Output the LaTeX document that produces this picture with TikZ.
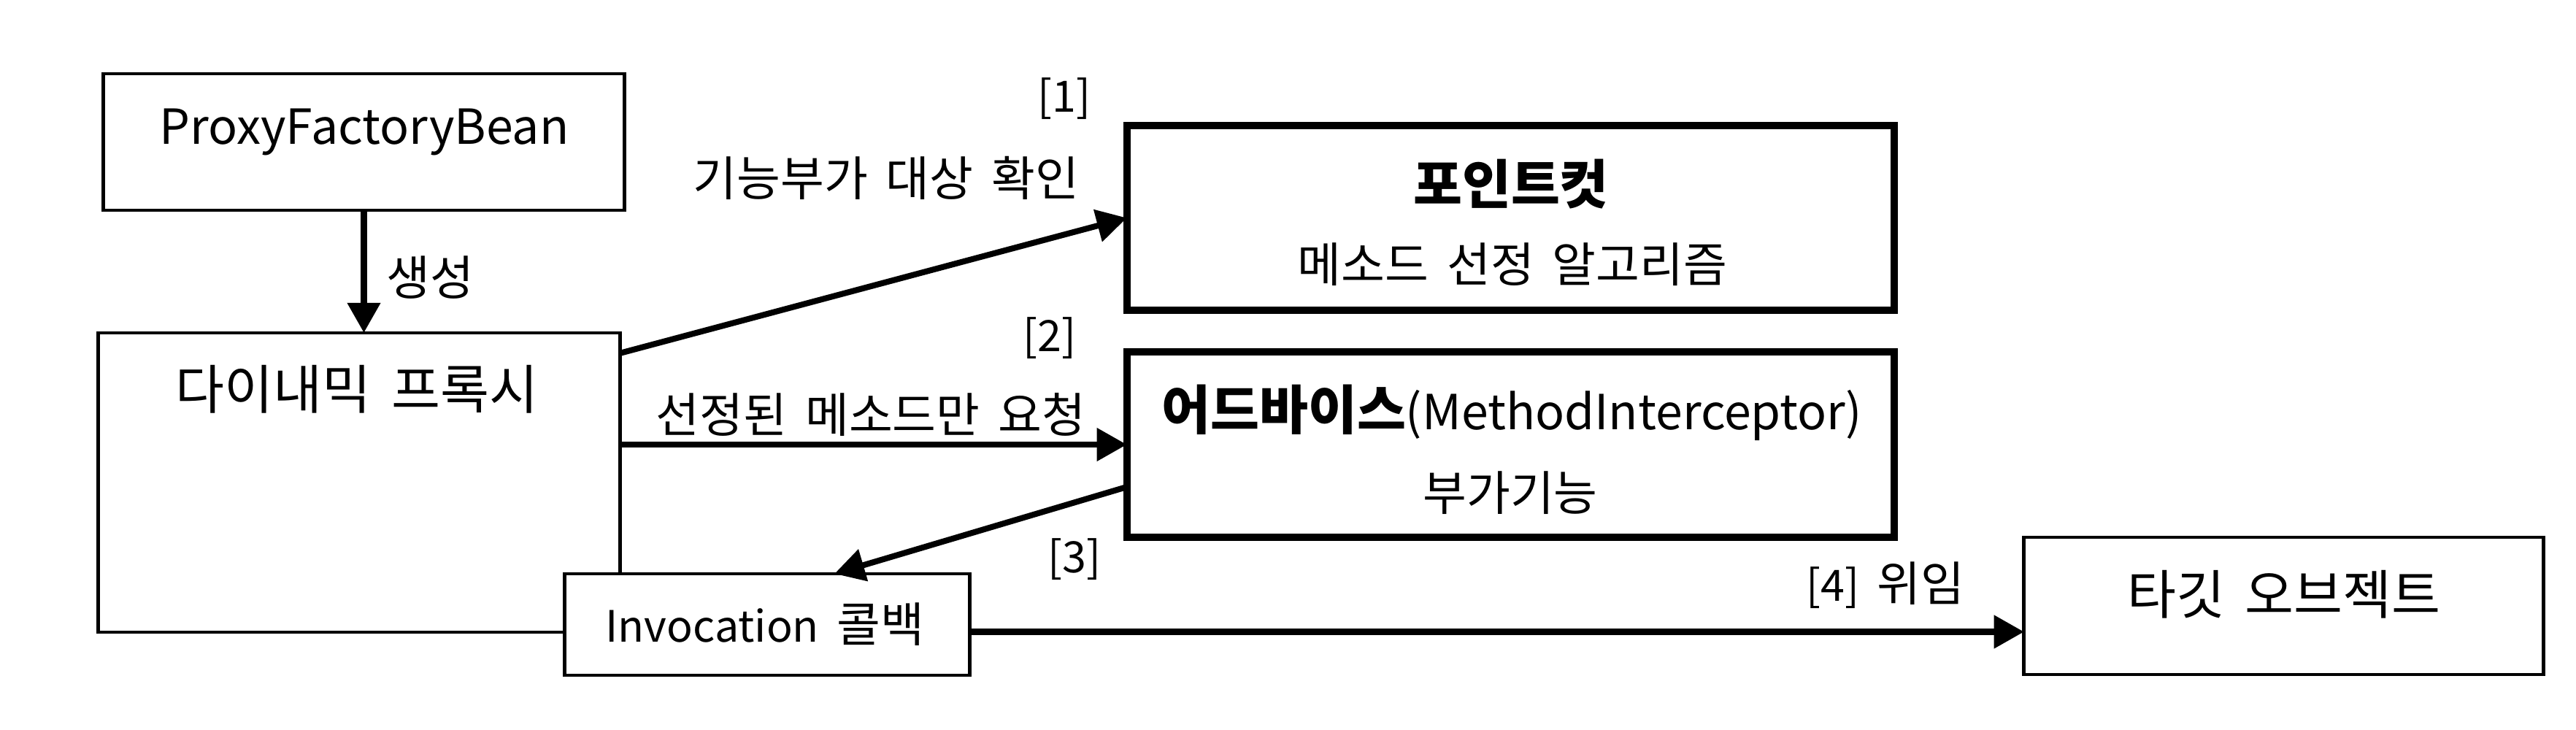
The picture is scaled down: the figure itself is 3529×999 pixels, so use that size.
\documentclass[tikz,border=0pt]{standalone}
\usepackage{fontspec}
\setmainfont{Noto Sans CJK KR}[WordSpace=1.7]
\newfontfamily\latfont{Noto Sans CJK KR}[Scale=0.91, WordSpace=1.7]
\usetikzlibrary{calc, arrows.meta}

\begin{document}
\begin{tikzpicture}[x=0.01cm, y=-0.01cm, >={Triangle[length=11.7pt, width=12.5pt]},
  box/.style={draw, line width=1.34pt, fill=white, inner sep=0pt, outer sep=0pt},
  heavybox/.style={box, line width=2.85pt},
  arr/.style={->, line width=2.3pt},
  big/.style={font=\fontsize{20.7}{24}\selectfont},
  small/.style={font=\fontsize{18.5}{22}\selectfont}]
  \useasboundingbox (0,0) rectangle (3529,999);
  % boxes
  \node (pfb) at (498.5,194.5) [box, minimum width=7.13cm, minimum height=1.87cm] {};
  \node (proxy) at (492,661) [box, minimum width=7.14cm, minimum height=4.10cm] {};
  \node (inv) at (1051,855.5) [box, minimum width=5.54cm, minimum height=1.39cm] {};
  \node (pc) at (2069.5,298.5) [heavybox, minimum width=10.51cm, minimum height=2.53cm] {};
  \node (adv) at (2069.5,609) [heavybox, minimum width=10.51cm, minimum height=2.54cm] {};
  \node (tgt) at (3128.5,830) [box, minimum width=7.11cm, minimum height=1.88cm] {};
  % texts in boxes
  \node (pfbtext) at (499,181) [big] {\latfont ProxyFactoryBean};
  \node (proxytext) at (489,533) [big] {다이내믹 프록시};
  \node (invtext) at (1048,855) [small] {{\latfont Invocation} 콜백};
  \node (pctitle) at (2070,252) [big] {\bfseries 포인트컷};
  \node (pcsub) at (2072,362) [small] {메소드 선정 알고리즘};
  \node (advtitle) at (2071,565) [big] {\bfseries 어드바이스\mdseries\latfont(MethodInterceptor)};
  \node (advsub) at (2069,675) [small] {부가기능};
  \node (tgttext) at (3129,814) [big] {타깃 오브젝트};
  % connectors
  \draw [arr] (pfb.south) -- (pfb.south |- proxy.north);
  \draw [arr] ($(proxy.north east)+(0,28)$) -- (pc.west);
  \draw [arr] (proxy.east |- adv.west) -- (adv.west);
  \draw [arr] ($(adv.west)+(0,58)$) -- ($(inv.north east)+(-185,0)$);
  \draw [arr] ($(inv.east)+(0,10)$) -- ($(inv.east -| tgt.west)+(0,10)$);
  % labels
  \node (lmake) at (589,380) [small] {생성};
  \node (lstep1) at (1458,135) [small] {\latfont [1]};
  \node (lcheck) at (1214,244) [small] {기능부가 대상 확인};
  \node (lstep2) at (1438,463) [small] {\latfont [2]};
  \node (lcall) at (1193,568) [small] {선정된 메소드만 요청};
  \node (lstep3) at (1472,766) [small] {\latfont [3]};
  \node (lstep4) at (2583,802) [small] {{\latfont [4]} 위임};
\end{tikzpicture}
\end{document}
